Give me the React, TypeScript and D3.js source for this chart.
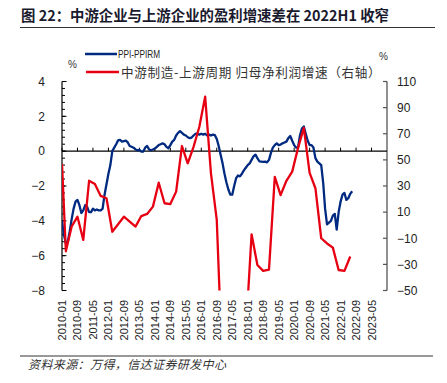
import React from "react";
import * as d3 from "d3";

// PPI-PPIRM, monthly from 2010-01 (left axis, %)
const bluePPI: number[] = [
  -4.0, -4.8, -5.3, -5.2, -4.6, -3.9, -3.3, -2.9, -2.8, -3.1,
  -3.55, -3.4, -3.1, -3.2, -3.5, -3.5, -3.3, -3.4, -3.35, -3.4,
  -3.4, -3.3, -2.5, -1.9, -1.3, -0.8, 0.0, 0.2, 0.4, 0.62,
  0.65, 0.55, 0.58, 0.6, 0.5, 0.3, 0.25, 0.2, 0.1, 0.05,
  0.08, -0.03, -0.02, 0.2, 0.3, 0.1, 0.05, 0.1, 0.15, 0.25,
  0.35, 0.4, 0.45, 0.4, 0.25, 0.17, 0.35, 0.55, 0.65, 0.9,
  1.05, 1.15, 1.05, 0.95, 0.9, 0.8, 0.75, 0.78, 0.9, 1.0,
  1.0, 0.95, 1.0, 0.95, 1.0, 0.9, 0.95, 0.9, 0.95, 0.92,
  0.7, 0.3, -0.2, -0.7, -1.3, -1.8, -2.2, -2.5, -2.5, -2.0,
  -1.55, -1.4, -1.45, -1.3, -1.1, -0.95, -0.8, -0.7, -0.5, -0.3,
  -0.2, -0.4, -0.58, -0.6, -0.62, -0.6, -0.64, -0.5, -0.1, 0.2,
  0.35, 0.45, 0.35, 0.38, 0.45, 0.5, 0.55, 0.75, 0.87, 0.6,
  0.35, 0.2, 0.2, 0.9, 1.3, 1.42, 1.0, 0.6, 0.35, 0.35,
  0.2, -0.4, -0.6, -0.7, -0.8, -1.8, -3.3, -4.2, -4.1, -4.0,
  -3.7, -3.6, -4.5, -3.5, -2.9, -2.5, -2.4, -2.8, -2.7, -2.45,
  -2.3,
];

// 中游制造-上游周期 归母净利润增速 (right axis, %): first reading 2010-01, then quarterly from 2010-03
const redFirst = 47;
const redQuarterly: number[] = [
  -20, -1, 6.5, -11.3, 34, 31.5, 22.4, 20.6, -5, 0.7,
  6.5, 2.7, -1.1, 7, 8.6, 14.2, 32.5, 16.8, 16.2, 25.7,
  60.6, 47.4, 60, 75.4, 98.4, 39.7, 4, -112, -170, -190,
  -150, -83, -7, -30.5, -35, -34, 37, 23, 34, 41,
  59, 74.5, 40, 28.3, -10, -14, -17.2, -34.3, -35, -24,
];

const leftTicks = [4, 2, 0, -2, -4, -6, -8];
const rightTicks = [110, 90, 70, 50, 30, 10, -10, -30, -50];
const xTickLabels = [
  "2010-01", "2010-09", "2011-05", "2012-01", "2012-09", "2013-05", "2014-01",
  "2014-09", "2015-05", "2016-01", "2016-09", "2017-05", "2018-01", "2018-09",
  "2019-05", "2020-01", "2020-09", "2021-05", "2022-01", "2022-09", "2023-05",
];

const title = "图 22：中游企业与上游企业的盈利增速差在 2022H1 收窄";
const source = "资料来源：万得，信达证券研发中心";
const legendBlue = "PPI-PPIRM";
const legendRed = "中游制造-上游周期 归母净利润增速（右轴）";

const monthIndex = (s: string) => {
  const [y, m] = s.split("-").map(Number);
  return (y - 2010) * 12 + (m - 1);
};

export default function App() {
  const W = 447, H = 383;
  const left = 62, right = 387, top = 81.5, bottom = 290.5;
  const x = d3.scaleLinear().domain([0, 168]).range([left, right]);
  const yL = d3.scaleLinear().domain([-8, 4]).range([bottom, top]);
  const yR = d3.scaleLinear().domain([-50, 110]).range([bottom, top]);

  const blueData = bluePPI.map((v, i) => [i, v] as [number, number]);
  const redData: [number, number][] = [[0, redFirst], ...redQuarterly.map((v, i) => [2 + i * 3, v] as [number, number])];

  const blueLine = d3.line<[number, number]>().x(d => x(d[0])).y(d => yL(d[1]))(blueData) || "";
  const redLine = d3.line<[number, number]>().x(d => x(d[0])).y(d => yR(d[1]))(redData) || "";

  const minorTicks = d3.range(-8, 4.0001, 0.4);
  const zeroY = yL(0);
  const font = "'Liberation Sans', Arial, sans-serif";
  const cjk = "'Noto Sans CJK SC', sans-serif";

  return (
    <svg width={W} height={H} style={{ position: "absolute", left: 0, top: 0, background: "#fff" }}>
      <defs>
        <clipPath id="plot">
          <rect x={left} y={top - 20} width={right - left} height={bottom - top + 20} />
        </clipPath>
      </defs>
      {/* Title */}
      <text x={21} y={21} fontFamily={cjk} fontWeight="bold" fontSize={14.4} fill="#1a1a2e">{title}</text>
      <line x1={20} x2={435} y1={27.5} y2={27.5} stroke="#333" strokeWidth={1} />

      {/* Legend */}
      <line x1={85} x2={117} y1={54} y2={54} stroke="#002a80" strokeWidth={2.5} />
      <text x={118} y={57.5} fontFamily={font} fontSize={10} textLength={42} lengthAdjust="spacingAndGlyphs" fill="#222">{legendBlue}</text>
      <line x1={86} x2={119} y1={72} y2={72} stroke="#e60012" strokeWidth={2.5} />
      <text x={121} y={76.5} fontFamily={cjk} fontSize={12.6} letterSpacing={0.65} fill="#333">{legendRed}</text>

      <text x={68} y={68} fontFamily={font} fontSize={10} fill="#333">%</text>
      <text x={379} y={60} fontFamily={font} fontSize={10} fill="#333">%</text>

      {/* Left axis */}
      <line x1={left} x2={left} y1={top} y2={bottom} stroke="#000" strokeWidth={1.2} />
      {minorTicks.map((t, i) => (
        <line key={"m" + i} x1={left} x2={left + 3} y1={yL(t)} y2={yL(t)} stroke="#000" strokeWidth={1} />
      ))}
      {leftTicks.map(t => (
        <g key={"l" + t}>
          <line x1={left} x2={left + 4.5} y1={yL(t)} y2={yL(t)} stroke="#000" strokeWidth={1} />
          <text x={45} y={yL(t) + 4.3} textAnchor="end" fontFamily={font} fontSize={12} fill="#222">{d3.format("")(t)}</text>
        </g>
      ))}

      {/* Right axis */}
      <line x1={right} x2={right} y1={top} y2={bottom} stroke="#555" strokeWidth={1.3} />
      {rightTicks.map(t => (
        <g key={"r" + t}>
          <line x1={right - 4} x2={right} y1={yR(t)} y2={yR(t)} stroke="#555" strokeWidth={1.2} />
          <text x={397} y={yR(t) + 4.3} fontFamily={font} fontSize={12} fill="#222">{d3.format("")(t)}</text>
        </g>
      ))}

      {/* Zero line + x ticks */}
      <line x1={left} x2={right} y1={zeroY} y2={zeroY} stroke="#000" strokeWidth={1.3} />
      {xTickLabels.map(s => {
        const xx = x(monthIndex(s));
        return (
          <g key={s}>
            <line x1={xx} x2={xx} y1={zeroY} y2={zeroY - 3.5} stroke="#000" strokeWidth={1} />
            <text transform={`translate(${xx + 4},300) rotate(-90)`} textAnchor="end" fontFamily={font} fontSize={11} fill="#222">{s}</text>
          </g>
        );
      })}

      {/* Series */}
      <g clipPath="url(#plot)">
        <path d={blueLine} fill="none" stroke="#002a80" strokeWidth={2.3} strokeLinejoin="round" />
        <path d={redLine} fill="none" stroke="#e60012" strokeWidth={2.3} strokeLinejoin="round" />
      </g>

      {/* Source */}
      <line x1={20} x2={433} y1={356} y2={356} stroke="#333" strokeWidth={1} />
      <text x={28} y={369} fontFamily={cjk} fontStyle="italic" fontSize={12} letterSpacing={0.4} fill="#333">{source}</text>
    </svg>
  );
}
